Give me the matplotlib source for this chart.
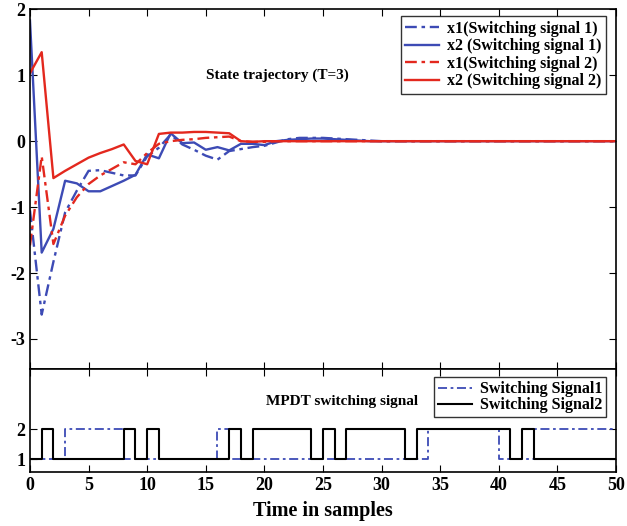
import matplotlib
matplotlib.use("Agg")
import matplotlib.pyplot as plt

# time samples 0..50
t = list(range(51))

# state trajectories, switching signal 1 (blue)
x1_sw1 = [-1.05, -2.63, -1.83, -1.08, -0.75, -0.45, -0.44, -0.48, -0.52, -0.52,
          -0.23, -0.10, 0.10, -0.05, -0.13, -0.22, -0.28, -0.15, -0.12, -0.09,
          -0.07, -0.02, 0.03, 0.05, 0.05, 0.05, 0.04, 0.03, 0.02, 0.01] + [0.0] * 21
x2_sw1 = [1.83, -1.69, -1.33, -0.60, -0.64, -0.76, -0.76, -0.68, -0.60, -0.51,
          -0.20, -0.26, 0.12, -0.03, -0.02, -0.13, -0.09, -0.14, -0.04, -0.04,
          -0.06, 0.0, 0.02, 0.03, 0.04, 0.04, 0.03, 0.02, 0.01, 0.0] + [0.0] * 21

# state trajectories, switching signal 2 (red)
x1_sw2 = [-1.58, -0.23, -1.56, -1.13, -0.85, -0.65, -0.52, -0.42, -0.32, -0.35,
          -0.18, -0.04, 0.0, 0.02, 0.03, 0.05, 0.06, 0.07, 0.0, -0.01,
          -0.01] + [0.0] * 30
x2_sw2 = [1.03, 1.35, -0.56, -0.45, -0.35, -0.25, -0.18, -0.12, -0.05, -0.30,
          -0.35, 0.11, 0.13, 0.13, 0.14, 0.14, 0.13, 0.12, 0.0, -0.01,
          0.0] + [0.0] * 30

# MPDT switching signals (mode held from sample k to k+1)
sig1 = [1, 1, 1, 2, 2, 2, 2, 2, 1, 1, 1, 1, 1, 1, 1, 1, 2, 1, 1, 1,
        1, 1, 1, 1, 1, 1, 1, 1, 1, 1, 1, 1, 1, 1, 2, 2, 2, 2, 2, 2,
        1, 1, 1, 2, 2, 2, 2, 2, 2, 2, 2]
sig2 = [1, 2, 1, 1, 1, 1, 1, 1, 2, 1, 2, 1, 1, 1, 1, 1, 1, 2, 1, 2,
        2, 2, 2, 2, 1, 2, 1, 2, 2, 2, 2, 2, 1, 2, 2, 2, 2, 2, 2, 2,
        2, 1, 2, 1, 1, 1, 1, 1, 1, 1, 1]

blue = "#3d4bb5"
red = "#e3281e"
dashdot = (0, (5, 2, 1.5, 2))

plt.rcParams['font.family'] = ['Liberation Serif', 'DejaVu Serif']
plt.rcParams['font.weight'] = 'bold'
plt.rcParams['axes.unicode_minus'] = False

fig = plt.figure(figsize=(6.27, 5.26), dpi=100)
ax1 = fig.add_axes([0.0478, 0.2979, 0.9346, 0.6844])
ax2 = fig.add_axes([0.0478, 0.1032, 0.9346, 0.1947])

# top panel: state trajectories
ax1.plot(t, x1_sw1, color=blue, lw=1.7, linestyle=dashdot, label='x1(Switching signal 1)')
ax1.plot(t, x2_sw1, color=blue, lw=1.7, label='x2 (Switching signal 1)')
ax1.plot(t, x1_sw2, color=red, lw=1.7, linestyle=dashdot, label='x1(Switching signal 2)')
ax1.plot(t, x2_sw2, color=red, lw=1.7, label='x2 (Switching signal 2)')
ax1.set_xlim(0, 50)
ax1.set_ylim(-3.46, 2)
ax1.set_yticks([-3, -2, -1, 0, 1, 2])
ax1.set_xticks(range(0, 51, 5))
ax1.set_xticklabels([])
ax1.tick_params(direction='in', top=True, right=True, labelsize=13, length=5)
ax1.text(15, 1.0, 'State trajectory (T=3)', fontsize=11, fontweight='bold', va='center')
leg1 = ax1.legend(loc='upper right', fontsize=11.5, frameon=True, fancybox=False,
                  edgecolor='black', handlelength=2.1, handletextpad=0.5,
                  labelspacing=0.1, borderpad=0.3, borderaxespad=0.3,
                  bbox_to_anchor=(0.9915, 0.995))
leg1.get_frame().set_linewidth(1.0)

# bottom panel: switching signals
ax2.step(t, sig1, where='post', color=blue, lw=1.3, linestyle=dashdot, label='Switching Signal1')
ax2.step(t, sig2, where='post', color='black', lw=1.5, label='Switching Signal2')
ax2.set_xlim(0, 50)
ax2.set_ylim(0.59, 4.0)
ax2.set_yticks([1, 2])
ax2.set_xticks(range(0, 51, 5))
ax2.tick_params(direction='in', top=True, right=True, labelsize=13, length=5)
ax2.text(20.1, 2.92, 'MPDT switching signal', fontsize=11, fontweight='bold', va='center')
leg2 = ax2.legend(loc='upper right', fontsize=11.5, frameon=True, fancybox=False,
                  edgecolor='black', handlelength=2.1, handletextpad=0.5,
                  labelspacing=0.0, borderpad=0.25, borderaxespad=0.3,
                  bbox_to_anchor=(0.9915, 0.97))
leg2.get_frame().set_linewidth(1.0)
ax2.set_xlabel('Time in samples', fontsize=14.5, fontweight='bold', labelpad=5)

for ax in (ax1, ax2):
    for s in ax.spines.values():
        s.set_linewidth(1.2)

fig.savefig('out.png', dpi=100)
